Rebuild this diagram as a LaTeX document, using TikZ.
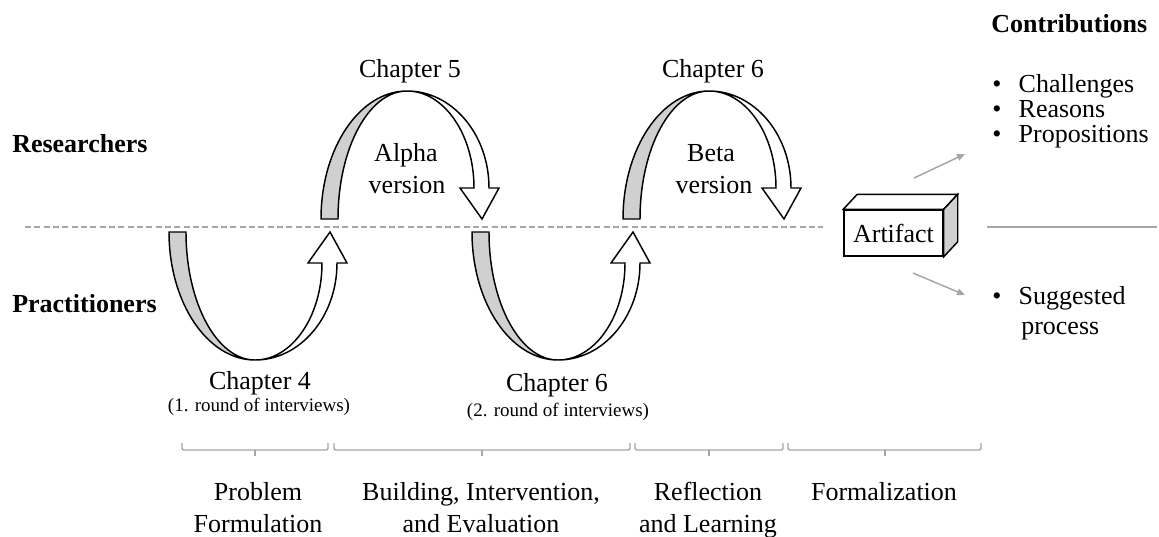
\documentclass[tikz,border=0pt]{standalone}
\usepackage{fontspec}
\setmainfont{Liberation Serif}
\usetikzlibrary{arrows.meta}
\definecolor{guide}{RGB}{166,166,166}
\definecolor{backface}{RGB}{208,208,208}
\begin{document}
\begin{tikzpicture}[x=0.75pt,y=-0.75pt,
  outline/.style={draw=black, line width=1.1pt, line join=miter},
  big/.style={inner sep=0pt, font=\fontsize{19.5pt}{23pt}\selectfont},
  small/.style={inner sep=0pt, font=\fontsize{14.25pt}{17pt}\selectfont},
  head/.style={inner sep=0pt, font=\fontsize{19.5pt}{23pt}\selectfont\bfseries},
  guideline/.style={draw=guide, line width=1.1pt},
  bracket/.style={draw=guide, line width=1.1pt, rounded corners=1.5pt},
  pics/uturn/.style={code={
    % shaded back face of the ribbon
    \path[outline, fill=backface] (-86,-128)
      .. controls (-86,-57.3) and (-47.5,0) .. (0,0)
      .. controls (-38.1,0) and (-69,-57.3) .. (-69,-128) -- cycle;
    % white front face ending in the arrow head
    \path[outline, fill=white] (0,0)
      .. controls (45.3,0) and (82,-43.4) .. (82,-97)
      -- (92,-97) -- (75,-128) -- (53,-97) -- (67,-97)
      .. controls (67,-43.4) and (37,0) .. (0,0) -- cycle;
  }}
]
\useasboundingbox (0,0) rectangle (1159,536);

% separator between the two groups
\draw[guide, line width=1pt, dash pattern=on 4.5pt off 2.5pt] (25,227) coordinate (sepL) -- (823,227) coordinate (sepR);
\draw[guideline] (987,227) coordinate (sep2L) -- (1157,227) coordinate (sep2R);

% group labels
\node[head, anchor=base west] (researchers) at (12,152) {Researchers};
\node[head, anchor=base west] (practitioners) at (12,312) {Practitioners};

% the four cycles
\pic (c4) at (255,360) {uturn};
\pic[yscale=-1] (c5) at (407,91) {uturn};
\pic (c6a) at (558,360) {uturn};
\pic[yscale=-1] (c6b) at (709,91) {uturn};

% chapter labels
\node[big, anchor=base] (ch5) at (410,77) {Chapter 5};
\node[big, anchor=base] (alpha) at (406,161) {Alpha};
\node[big, anchor=base] (alphav) at (407,193) {version};
\node[big, anchor=base] (ch6b) at (713,77) {Chapter 6};
\node[big, anchor=base] (beta) at (711,161) {Beta};
\node[big, anchor=base] (betav) at (714,193) {version};
\node[big, anchor=base] (ch4) at (260,389) {Chapter 4};
\node[small, anchor=base] (r1) at (259,411) {(1. round of interviews)};
\node[big, anchor=base] (ch6a) at (557,391) {Chapter 6};
\node[small, anchor=base] (r2) at (558,416) {(2. round of interviews)};

% artifact box
\node[outline, fill=white, minimum width=74.25pt, minimum height=34.5pt, inner sep=0pt, big] (artifact) at (893.5,233) {Artifact};
\draw[outline, fill=white] (artifact.north west) -- ++(14,-15) -- ([shift={(14,-15)}]artifact.north east) -- (artifact.north east) -- cycle;
\draw[outline, fill=backface] (artifact.north east) -- ++(14,-15) -- ([shift={(14,-15)}]artifact.south east) -- (artifact.south east) -- cycle;

% contributions
\coordinate (upS) at (914,178);
\coordinate (upE) at (965,154);
\coordinate (loS) at (913,273);
\coordinate (loE) at (965,295);
\draw[guideline, -{Triangle[length=6pt,width=5pt]}] (upS) -- (upE);
\draw[guideline, -{Triangle[length=6pt,width=5pt]}] (loS) -- (loE);

\node[head, anchor=base west] (contrib) at (991,32) {Contributions};
\node[big, anchor=base west] (b1) at (992,92) {•\hspace{13pt}Challenges};
\node[big, anchor=base west] (b2) at (992,117) {•\hspace{13pt}Reasons};
\node[big, anchor=base west] (b3) at (992,142) {•\hspace{13pt}Propositions};
\node[big, anchor=base west] (b4) at (992,304) {•\hspace{13pt}Suggested};
\node[big, anchor=base west] (b4b) at (1021,334) {process};

% phases
\draw[bracket] (182,443) -- (182,450) -- (328,450) -- (328,443);
\draw[guideline] (255,450) -- (255,456);
\draw[bracket] (334,443) -- (334,450) -- (630,450) -- (630,443);
\draw[guideline] (482,450) -- (482,456);
\draw[bracket] (635,443) -- (635,450) -- (783,450) -- (783,443);
\draw[guideline] (709,450) -- (709,456);
\draw[bracket] (788,443) -- (788,450) -- (981,450) -- (981,443);
\draw[guideline] (885,450) -- (885,456);

\node[big, anchor=base] (p1a) at (258,500) {Problem};
\node[big, anchor=base] (p1b) at (258,532) {Formulation};
\node[big, anchor=base] (p2a) at (481,500) {Building, Intervention,};
\node[big, anchor=base] (p2b) at (481,532) {and Evaluation};
\node[big, anchor=base] (p3a) at (708,500) {Reflection};
\node[big, anchor=base] (p3b) at (708,532) {and Learning};
\node[big, anchor=base] (p4) at (884,500) {Formalization};
\end{tikzpicture}
\end{document}
